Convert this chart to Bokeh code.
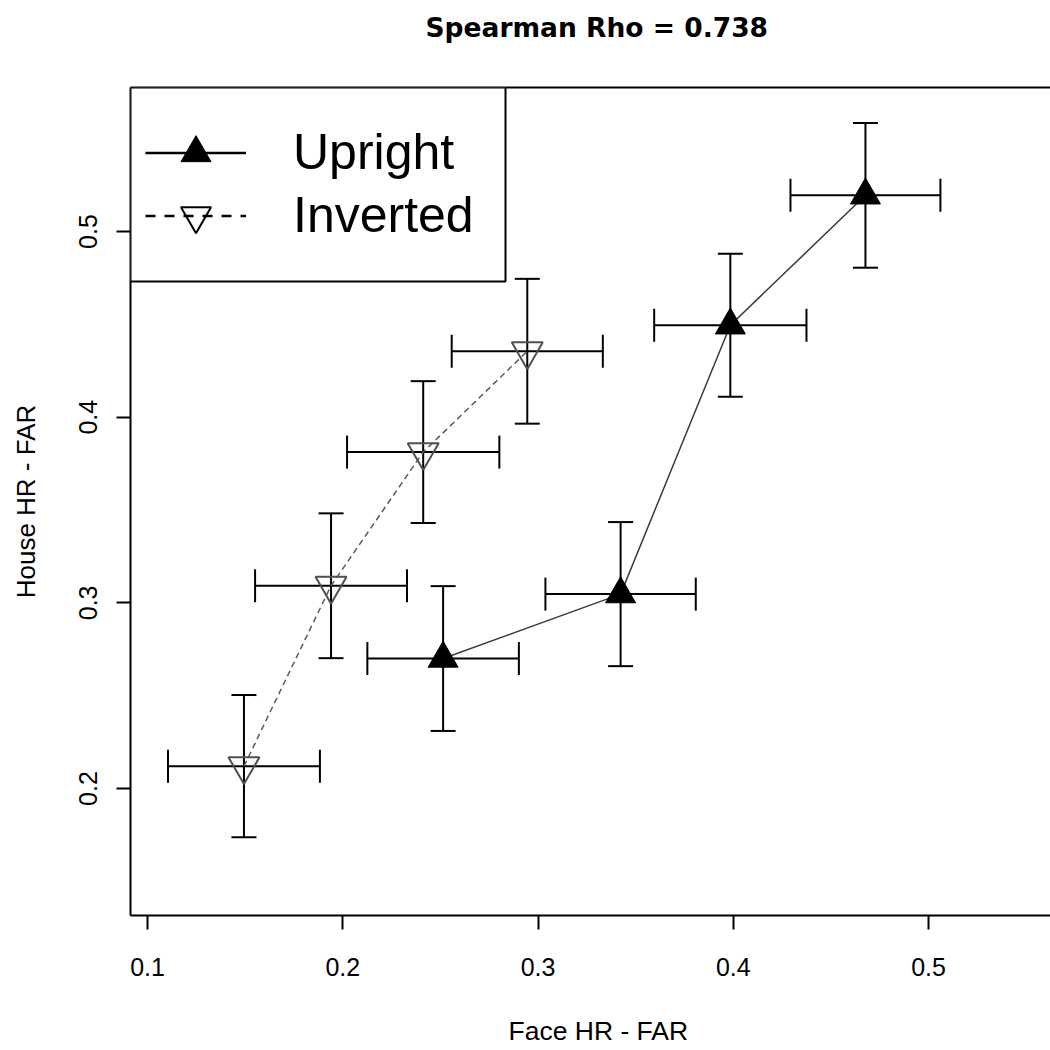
from bokeh.plotting import figure
from bokeh.models import (ColumnDataSource, Whisker, TeeHead, Range1d, FixedTicker,
                          LinearAxis, Legend, LegendItem, Title, BoxAnnotation)
from bokeh.embed import file_html
from bokeh.resources import INLINE

title_text = "Spearman Rho = 0.738"
x_label = "Face HR - FAR"
y_label = "House HR - FAR"
series_names = ["Upright", "Inverted"]

upright_x = [0.2514, 0.3423, 0.3985, 0.4677]
upright_y = [0.2700, 0.3047, 0.4495, 0.5195]
upright_xerr = [0.0388, 0.0385, 0.0390, 0.0384]
upright_yerr = [0.0390, 0.0388, 0.0385, 0.0390]

inverted_x = [0.1494, 0.1940, 0.2412, 0.2945]
inverted_y = [0.2120, 0.3092, 0.3812, 0.4355]
inverted_xerr = [0.0389, 0.0389, 0.0390, 0.0387]
inverted_yerr = [0.0383, 0.0390, 0.0382, 0.0390]

x_ticks = [0.1, 0.2, 0.3, 0.4, 0.5]
y_ticks = [0.2, 0.3, 0.4, 0.5]

FONT = "Liberation Sans"
W = H = 1050
FRAME_L, FRAME_T, FRAME_B = 130, 87, 915
FRAME_H = FRAME_B - FRAME_T


def make_source(xs, ys, xe, ye):
    return ColumnDataSource(dict(
        x=xs, y=ys,
        xl=[a - e for a, e in zip(xs, xe)], xu=[a + e for a, e in zip(xs, xe)],
        yl=[b - e for b, e in zip(ys, ye)], yu=[b + e for b, e in zip(ys, ye)],
    ))


def spacer(size):
    # a blank (white, 1px) title that only reserves vertical room in a side panel
    return Title(text=" ", text_font_size="1px", standoff=size, text_color="white")


up_src = make_source(upright_x, upright_y, upright_xerr, upright_yerr)
inv_src = make_source(inverted_x, inverted_y, inverted_xerr, inverted_yerr)

p = figure(width=W, height=H, output_backend="svg", toolbar_location=None,
           x_range=Range1d(0.09129, 0.56248), y_range=Range1d(0.13160, 0.57756),
           min_border_left=FRAME_L, min_border_right=0, min_border_top=FRAME_T,
           min_border_bottom=H - FRAME_B,
           background_fill_color="white", border_fill_color="white")
p.outline_line_color = None
p.grid.visible = False
p.title.visible = False

for ax, ticks in ((p.xaxis[0], x_ticks), (p.yaxis[0], y_ticks)):
    ax.ticker = FixedTicker(ticks=ticks)
    ax.minor_tick_line_color = None
    ax.major_tick_in = 0
    ax.major_tick_out = 14
    ax.major_tick_line_width = 2
    ax.major_tick_line_color = "black"
    ax.axis_line_width = 2
    ax.axis_line_color = "black"
    ax.major_label_text_font = FONT
    ax.major_label_text_font_size = "25px"
    ax.major_label_text_color = "black"
    ax.axis_label_text_font = FONT
    ax.axis_label_text_font_size = "26px"
    ax.axis_label_text_font_style = "normal"
    ax.axis_label_text_color = "black"

p.xaxis.major_label_standoff = 28
p.yaxis.major_label_orientation = "vertical"
p.yaxis.major_label_standoff = 19
p.yaxis.axis_label = y_label
p.yaxis.axis_label_standoff = 36

# top border line of the plot box
p.add_layout(LinearAxis(ticker=FixedTicker(ticks=[]), axis_line_width=2, axis_line_color="black",
                        major_tick_line_color=None, minor_tick_line_color=None,
                        major_tick_out=0, major_tick_in=0, major_label_standoff=0,
                        major_label_text_color=None), "above")
p.add_layout(spacer(42), "above")
p.add_layout(Title(text=title_text, align="left", offset=295, standoff=0,
                   vertical_align="bottom",
                   text_font="DejaVu Sans", text_font_size="26.5px", text_font_style="bold",
                   text_color="black"), "above")

# room below the tick labels, then the x-axis title
p.add_layout(spacer(31), "below")
p.add_layout(Title(text=x_label, align="left", offset=378, standoff=2,
                   vertical_align="bottom",
                   text_font=FONT, text_font_size="26.5px", text_font_style="normal",
                   text_color="black"), "below")

# connecting lines
p.line("x", "y", source=up_src, line_color="#3a3a3a", line_width=1.5)
p.line("x", "y", source=inv_src, line_color="#5a5a5a", line_width=1.5, line_dash="6 4")

# error bars
for src in (up_src, inv_src):
    p.add_layout(Whisker(source=src, base="x", lower="yl", upper="yu", dimension="height",
                         line_width=2, line_color="black",
                         upper_head=TeeHead(size=25, line_width=2, line_color="black"),
                         lower_head=TeeHead(size=25, line_width=2, line_color="black")))
    p.add_layout(Whisker(source=src, base="y", lower="xl", upper="xu", dimension="width",
                         line_width=2, line_color="black",
                         upper_head=TeeHead(size=33, line_width=2, line_color="black"),
                         lower_head=TeeHead(size=33, line_width=2, line_color="black")))

# markers
p.scatter("x", "y", source=up_src, marker="triangle", size=30,
          fill_color="black", line_color="black", line_width=1)
p.scatter("x", "y", source=inv_src, marker="inverted_triangle", size=31,
          fill_color=None, line_color="#505050", line_width=2)

# legend-only renderers (hidden on the plot, drawn only in the legend)
lg_up_line = p.line("x", "y", source=up_src, line_color="black", line_width=2.5, visible=False)
lg_up_mk = p.scatter("x", "y", source=up_src, marker="triangle",
                     fill_color="black", line_color="black", visible=False)
lg_in_line = p.line("x", "y", source=inv_src, line_color="black", line_width=2.5,
                    line_dash="10 9", visible=False)
lg_in_mk = p.scatter("x", "y", source=inv_src, marker="inverted_triangle", fill_color=None,
                     line_color="black", line_width=2, visible=False)

# legend frame
p.add_layout(BoxAnnotation(left=0, right=375, top=FRAME_H, bottom=FRAME_H - 194,
                           left_units="screen", right_units="screen",
                           top_units="screen", bottom_units="screen",
                           fill_color="white", fill_alpha=1.0,
                           line_color="black", line_width=2, line_alpha=1.0))

ROW_H = 75
GLYPH_X0 = 145
for name, rends, cy in ((series_names[0], [lg_up_line, lg_up_mk], 152),
                        (series_names[1], [lg_in_line, lg_in_mk], 215)):
    lg = Legend(items=[LegendItem(label=name, renderers=rends)],
                location=(GLYPH_X0 - FRAME_L, FRAME_B - (cy + ROW_H / 2)),
                margin=0, padding=0, spacing=0,
                glyph_width=101, glyph_height=ROW_H, label_height=ROW_H, label_width=184,
                label_standoff=47, label_text_font=FONT, label_text_font_size="50px",
                label_text_color="black",
                border_line_color=None, background_fill_alpha=0.0,
                inactive_fill_alpha=0)
    p.add_layout(lg)

open("out.html", "w").write(file_html(p, INLINE))
